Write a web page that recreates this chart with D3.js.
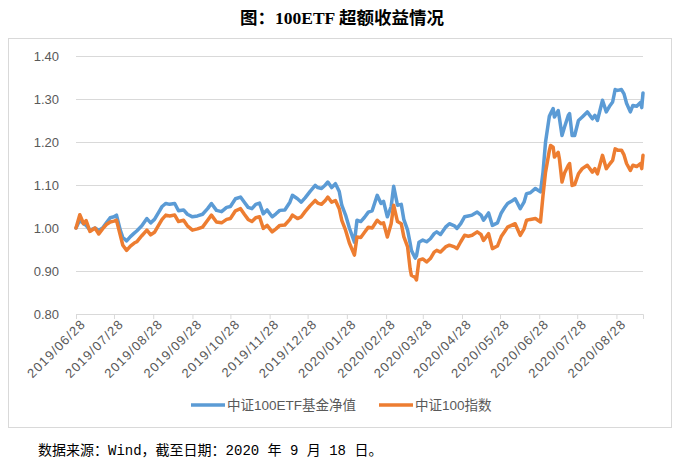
<!DOCTYPE html>
<html>
<head>
<meta charset="utf-8">
<script src="https://cdn.jsdelivr.net/npm/d3@7"></script>
<style>
  body { margin: 0; background: #fff; }
  .grid line { stroke: #d9d9d9; }
  .grid path { display: none; }
  .axis text { fill: #595959; font-family: "Liberation Sans", Arial, sans-serif; }
</style>
</head>
<body>
<div id="chart"></div>
<script>
const dates = ["2019-06-28","2019-07-01","2019-07-04","2019-07-06","2019-07-09","2019-07-13","2019-07-16","2019-07-19","2019-07-22","2019-07-25",
  "2019-07-28","2019-07-30","2019-08-02","2019-08-04","2019-08-07","2019-08-10","2019-08-13","2019-08-15","2019-08-19","2019-08-23",
  "2019-08-26","2019-08-29","2019-09-02","2019-09-04","2019-09-07","2019-09-10","2019-09-14","2019-09-17","2019-09-21","2019-09-24",
  "2019-09-28","2019-10-02","2019-10-06","2019-10-10","2019-10-13","2019-10-17","2019-10-21","2019-10-25","2019-10-28","2019-11-01",
  "2019-11-05","2019-11-08","2019-11-11","2019-11-14","2019-11-17","2019-11-20","2019-11-23","2019-11-26","2019-11-30","2019-12-03",
  "2019-12-06","2019-12-10","2019-12-14","2019-12-16","2019-12-20","2019-12-23","2019-12-26","2019-12-30","2020-01-03","2020-01-05",
  "2020-01-08","2020-01-11","2020-01-13","2020-01-16","2020-01-19","2020-01-22","2020-01-24","2020-01-27","2020-01-30","2020-02-03",
  "2020-02-05","2020-02-08","2020-02-11","2020-02-14","2020-02-17","2020-02-21","2020-02-24","2020-02-26","2020-02-29","2020-03-03",
  "2020-03-05","2020-03-08","2020-03-11","2020-03-13","2020-03-16","2020-03-18","2020-03-19","2020-03-22","2020-03-23","2020-03-25",
  "2020-03-28","2020-03-31","2020-04-03","2020-04-06","2020-04-08","2020-04-11","2020-04-15","2020-04-18","2020-04-22","2020-04-24",
  "2020-04-27","2020-04-30","2020-05-03","2020-05-06","2020-05-10","2020-05-13","2020-05-15","2020-05-19","2020-05-22","2020-05-26",
  "2020-05-29","2020-06-01","2020-06-03","2020-06-06","2020-06-09","2020-06-13","2020-06-16","2020-06-18","2020-06-21","2020-06-25",
  "2020-06-29","2020-07-01","2020-07-03","2020-07-06","2020-07-07","2020-07-09","2020-07-10","2020-07-13","2020-07-14","2020-07-16",
  "2020-07-18","2020-07-21","2020-07-22","2020-07-24","2020-07-26","2020-07-29","2020-08-01","2020-08-05","2020-08-09","2020-08-11",
  "2020-08-13","2020-08-17","2020-08-20","2020-08-23","2020-08-25","2020-08-27","2020-08-29","2020-09-01","2020-09-03","2020-09-05",
  "2020-09-08","2020-09-10","2020-09-13","2020-09-16","2020-09-17","2020-09-18"];

// 中证100ETF基金净值
const etfNav = [1.000,1.018,1.010,1.006,0.995,1.000,0.995,1.000,1.012,1.024,
  1.026,1.030,0.995,0.978,0.970,0.980,0.988,0.993,1.005,1.022,
  1.012,1.020,1.040,1.050,1.057,1.055,1.057,1.040,1.042,1.032,
  1.026,1.028,1.032,1.045,1.057,1.041,1.038,1.048,1.050,1.068,
  1.072,1.060,1.048,1.045,1.055,1.058,1.033,1.042,1.026,1.033,
  1.041,1.042,1.060,1.076,1.068,1.060,1.070,1.085,1.099,1.094,
  1.092,1.100,1.107,1.094,1.103,1.085,1.053,1.030,1.000,0.967,
  1.018,1.015,1.025,1.037,1.040,1.076,1.057,1.062,1.026,1.050,
  1.097,1.053,1.055,1.020,0.995,0.965,0.948,0.930,0.935,0.967,
  0.972,0.968,0.975,0.987,0.991,0.985,1.002,1.010,1.005,0.999,
  1.010,1.026,1.028,1.030,1.037,1.030,1.018,1.035,1.006,1.012,
  1.035,1.049,1.057,1.062,1.068,1.045,1.060,1.080,1.082,1.092,
  1.084,1.130,1.200,1.260,1.266,1.278,1.258,1.273,1.255,1.215,
  1.235,1.262,1.266,1.215,1.215,1.250,1.258,1.270,1.254,1.262,
  1.250,1.297,1.270,1.285,1.293,1.322,1.320,1.322,1.312,1.290,
  1.270,1.285,1.283,1.292,1.280,1.314];

// 中证100指数
const indexVal = [1.000,1.031,1.010,1.017,0.992,1.000,0.986,0.998,1.008,1.014,
  1.016,1.018,0.983,0.960,0.948,0.958,0.965,0.968,0.982,0.995,
  0.984,0.990,1.010,1.020,1.030,1.028,1.030,1.015,1.018,1.005,
  0.995,0.998,1.002,1.018,1.030,1.014,1.012,1.020,1.022,1.040,
  1.045,1.032,1.020,1.015,1.024,1.026,0.999,1.006,0.991,0.998,
  1.006,1.007,1.020,1.030,1.022,1.026,1.038,1.052,1.064,1.058,
  1.055,1.064,1.072,1.060,1.064,1.045,1.018,0.995,0.965,0.937,
  0.979,0.978,0.990,1.002,1.000,1.018,1.010,1.012,0.979,1.010,
  1.053,1.015,1.010,0.980,0.956,0.905,0.890,0.885,0.879,0.925,
  0.928,0.921,0.929,0.944,0.948,0.944,0.956,0.960,0.956,0.952,
  0.968,0.983,0.981,0.983,0.991,0.985,0.971,0.987,0.952,0.958,
  0.980,0.993,1.002,1.006,1.010,0.983,0.998,1.018,1.020,1.022,
  1.014,1.076,1.130,1.180,1.192,1.188,1.165,1.176,1.160,1.107,
  1.128,1.146,1.150,1.099,1.101,1.126,1.138,1.146,1.130,1.138,
  1.126,1.169,1.138,1.150,1.157,1.184,1.181,1.181,1.170,1.150,
  1.134,1.146,1.143,1.150,1.138,1.169];

const tickDates = ["2019-06-28","2019-07-28","2019-08-28","2019-09-28","2019-10-28","2019-11-28","2019-12-28",
  "2020-01-28","2020-02-28","2020-03-28","2020-04-28","2020-05-28","2020-06-28","2020-07-28","2020-08-28"];
const yTicks = [0.80, 0.90, 1.00, 1.10, 1.20, 1.30, 1.40];
const seriesNames = ["中证100ETF基金净值", "中证100指数"];
const seriesColours = ["#5b9bd5", "#ed7d31"];

const width = 683;
const height = 467;
const margin = ({top: 56, right: 40, bottom: 153, left: 76});

const parseDate = d3.timeParse("%Y-%m-%d");
const fmtTick = d3.timeFormat("%Y/%m/%d");

const svg = d3.select("#chart")
  .append("svg")
  .attr("width", width)
  .attr("height", height);

svg.append("text")
  .attr("x", 342)
  .attr("y", 24)
  .attr("text-anchor", "middle")
  .attr("font-family", "'Liberation Serif', 'Noto Sans CJK SC', serif")
  .attr("font-weight", "bold")
  .attr("font-size", "17.5px")
  .attr("fill", "#000")
  .text("图：100ETF 超额收益情况");

svg.append("rect")
  .attr("x", 8.5)
  .attr("y", 38.5)
  .attr("width", 663)
  .attr("height", 389)
  .attr("fill", "none")
  .attr("stroke", "#d9d9d9");

const x = d3.scaleTime()
  .domain([parseDate(dates[0]), parseDate(dates[dates.length - 1])])
  .range([margin.left, 643]);

const y = d3.scaleLinear()
  .domain([0.80, 1.40])
  .range([314, margin.top]);

// horizontal gridlines + y labels
svg.append("g")
  .attr("class", "grid axis")
  .attr("transform", `translate(${margin.left},0)`)
  .call(d3.axisLeft(y)
    .tickValues(yTicks)
    .tickSize(-(643 - margin.left))
    .tickPadding(17)
    .tickFormat(d3.format(".2f")))
  .call(g => g.selectAll("text").attr("font-size", "13px"));

// x axis with month ticks
const xAxis = svg.append("g")
  .attr("class", "axis")
  .attr("transform", `translate(0,${y(0.80)})`)
  .call(d3.axisBottom(x)
    .tickValues(tickDates.map(parseDate))
    .tickSize(5)
    .tickFormat(fmtTick));
xAxis.select(".domain").attr("stroke", "#d9d9d9");
xAxis.selectAll(".tick line").attr("stroke", "#d9d9d9");
xAxis.selectAll("text")
  .attr("font-size", "13px")
  .attr("letter-spacing", "1.1px")
  .attr("text-anchor", "end")
  .attr("dy", "0.35em")
  .attr("transform", "translate(1,2) rotate(-45)");

const line = d3.line()
  .x((d, i) => x(parseDate(dates[i])))
  .y(d => y(d))
  .curve(d3.curveLinear);

[etfNav, indexVal].forEach((s, i) => {
  svg.append("path")
    .attr("fill", "none")
    .attr("stroke", seriesColours[i])
    .attr("stroke-width", 3.5)
    .attr("stroke-linejoin", "round")
    .attr("stroke-linecap", "round")
    .attr("d", line(s));
});

// legend
const legendX = [191, 379];
seriesNames.forEach((name, i) => {
  const g = svg.append("g").attr("transform", `translate(${legendX[i]},405)`);
  g.append("line")
    .attr("x1", 0).attr("x2", 34)
    .attr("stroke", seriesColours[i])
    .attr("stroke-width", 3.5);
  g.append("text")
    .attr("x", 36)
    .attr("dy", "0.35em")
    .attr("font-family", "'Liberation Sans', 'Noto Sans CJK SC', sans-serif")
    .attr("font-size", "13.5px")
    .attr("fill", "#595959")
    .text(name);
});

svg.append("text")
  .attr("x", 38)
  .attr("y", 455)
  .attr("font-family", "'Liberation Mono', 'Noto Sans CJK SC', monospace")
  .attr("font-size", "14px")
  .attr("fill", "#000")
  .text("数据来源：Wind，截至日期：2020 年 9 月 18 日。");
</script>
</body>
</html>
